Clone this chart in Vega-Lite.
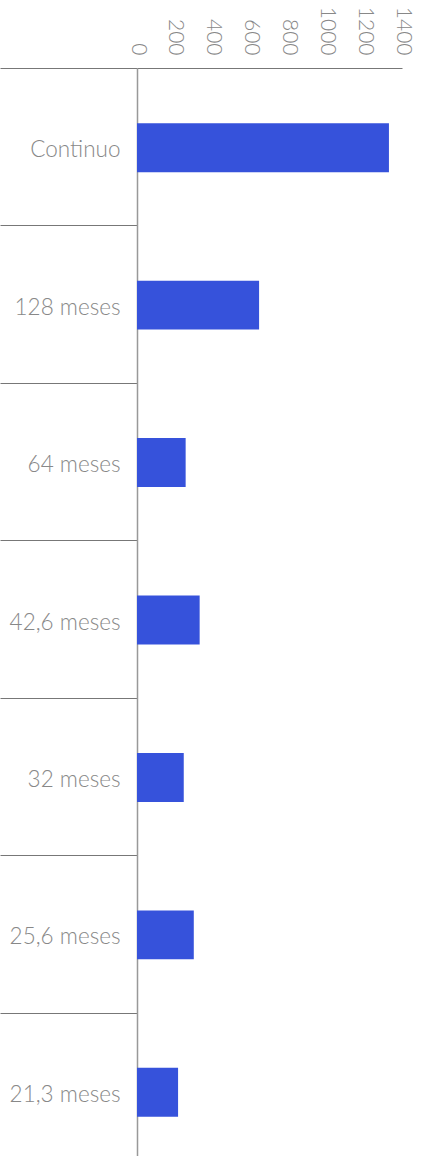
{
  "$schema": "https://vega.github.io/schema/vega-lite/v6.json",
  "autosize": "none",
  "width": 265,
  "height": 1102,
  "padding": {"left": 137, "top": 68, "right": 21, "bottom": 0},
  "background": "white",
  "data": {"values": [
    {"categoria": "Continuo", "valor": 1331},
    {"categoria": "128 meses", "valor": 645},
    {"categoria": "64 meses", "valor": 257},
    {"categoria": "42,6 meses", "valor": 331},
    {"categoria": "32 meses", "valor": 247},
    {"categoria": "25,6 meses", "valor": 300},
    {"categoria": "21,3 meses", "valor": 217}
  ]},
  "mark": {"type": "bar", "color": "#3652DB", "height": {"band": 0.311}, "yOffset": 1},
  "encoding": {
    "y": {
      "field": "categoria", "type": "nominal", "sort": null, "title": null,
      "scale": {"paddingInner": 0, "paddingOuter": 0},
      "axis": {
        "orient": "left", "tickBand": "extent", "tickSize": 137, "tickColor": "#777", "tickWidth": 1,
        "domainColor": "#999", "domainWidth": 1.5,
        "labelPadding": -120, "labelFont": "Lato", "labelFontWeight": 300, "labelFontSize": 22.5,
        "labelColor": "#888", "labelOffset": 3, "grid": false
      }
    },
    "x": {
      "field": "valor", "type": "quantitative", "title": null,
      "scale": {"domain": [0, 1400], "nice": false},
      "axis": {
        "orient": "top", "values": [0, 200, 400, 600, 800, 1000, 1200, 1400], "format": "d",
        "labelAngle": 90, "ticks": false, "labelPadding": 13,
        "labelFont": "Lato", "labelFontWeight": 300, "labelFontSize": 21, "labelColor": "#888",
        "domainColor": "#777", "domainWidth": 1, "grid": false
      }
    }
  },
  "config": {"view": {"stroke": null}}
}
